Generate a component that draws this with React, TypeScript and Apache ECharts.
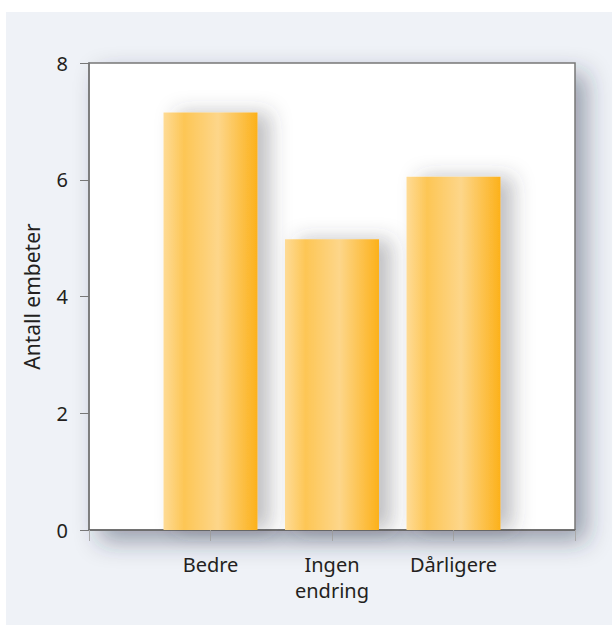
import React, { useEffect, useRef } from "react";
import * as echarts from "echarts";

const categories = ["Bedre", "Ingen\nendring", "Dårligere"];
const values = [7.15, 4.98, 6.05];
const yTicks = [0, 2, 4, 6, 8];
const yAxisName = "Antall embeter";

export default function App() {
  const ref = useRef<HTMLDivElement>(null);
  useEffect(() => {
    if (!ref.current) return;
    const chart = echarts.init(ref.current, null, { renderer: "svg" });
    const axisCats = ["", ...categories, ""];
    const data = [null, ...values, null];
    const font = "'Noto Sans', sans-serif";
    const barGrad = new echarts.graphic.LinearGradient(0, 0, 1, 0, [
      { offset: 0, color: "#fedb96" },
      { offset: 0.22, color: "#fdc655" },
      { offset: 0.58, color: "#fdd68a" },
      { offset: 1, color: "#fcb11a" },
    ]);
    chart.setOption({
      animation: false,
      graphic: [
        {
          type: "rect",
          z: -10,
          silent: true,
          shape: { x: 6, y: 12, width: 606, height: 613 },
          style: { fill: "#eff2f7" },
        },
      ],
      grid: {
        left: 89,
        top: 63,
        right: 38,
        bottom: 96,
        show: true,
        backgroundColor: "#ffffff",
        borderColor: "#777777",
        borderWidth: 1.5,
        shadowColor: "rgba(40,50,70,0.42)",
        shadowBlur: 24,
        shadowOffsetX: 11,
        shadowOffsetY: 11,
      },
      xAxis: {
        type: "category",
        data: axisCats,
        boundaryGap: false,
        axisLine: { show: true, lineStyle: { color: "#666666", width: 1.5 } },
        axisTick: { show: true, length: 11, lineStyle: { color: "#aaaaaa" } },
        axisLabel: {
          margin: 21,
          fontSize: 20,
          lineHeight: 26,
          color: "#231f20",
          fontFamily: font,
          interval: 0,
        },
      },
      yAxis: {
        type: "value",
        min: 0,
        max: 8,
        interval: 2,
        name: yAxisName,
        nameLocation: "middle",
        nameGap: 47,
        nameTextStyle: { fontSize: 21, color: "#231f20", fontFamily: font },
        splitLine: { show: false },
        axisLine: { show: true, lineStyle: { color: "#777777", width: 1.5 } },
        axisTick: { show: true, length: 9, lineStyle: { color: "#777777" } },
        axisLabel: {
          margin: 21,
          fontSize: 20,
          color: "#231f20",
          fontFamily: font,
          formatter: (v: number) => (yTicks.includes(v) ? String(v) : ""),
        },
      },
      series: [
        {
          type: "bar",
          data,
          barWidth: 94,
          itemStyle: {
            color: barGrad,
            shadowColor: "rgba(60,60,70,0.32)",
            shadowBlur: 20,
            shadowOffsetX: 13,
          },
        },
      ],
    });
    return () => chart.dispose();
  }, []);
  return (
    <div
      ref={ref}
      style={{ position: "absolute", left: 0, top: 0, width: 613, height: 626 }}
    />
  );
}
